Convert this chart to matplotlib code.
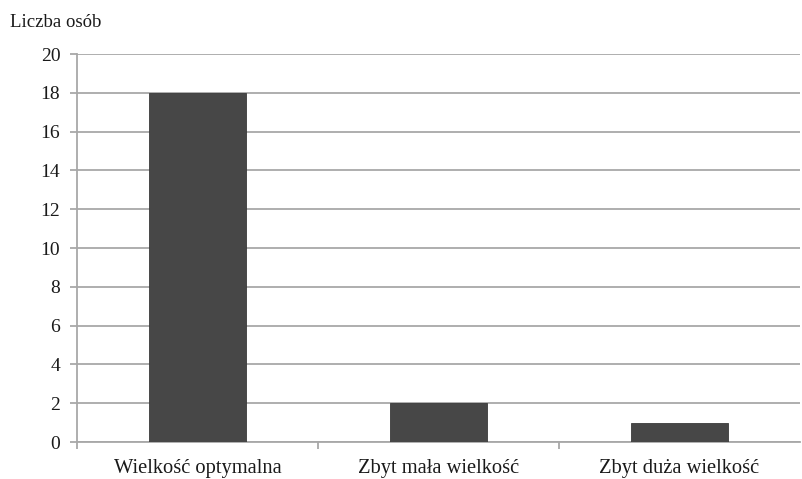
import matplotlib
matplotlib.use("Agg")
import matplotlib.pyplot as plt

categories = ["Wielkość optymalna", "Zbyt mała wielkość", "Zbyt duża wielkość"]
values = [18, 2, 1]
yticks = [0, 2, 4, 6, 8, 10, 12, 14, 16, 18, 20]

plt.rcParams['font.family'] = ['Liberation Serif', 'DejaVu Serif']

fig = plt.figure(figsize=(8.02, 4.79), dpi=100)
ax = fig.add_axes([0.096, 0.0772, 0.9015, 0.81])

x = list(range(len(categories)))
ax.bar(x, values, width=0.4, color='#474747', edgecolor='#3a3a3a', linewidth=0.6, zorder=3)

ax.set_xlim(-0.5, 2.5)
ax.set_ylim(0, 20)
ax.set_yticks(yticks)
ax.set_yticklabels([str(v) for v in yticks], fontsize=14, color='#1a1a1a')
ax.yaxis.grid(True, color='#a8a8a8', linewidth=1.3, zorder=0)
ax.tick_params(axis='y', length=5, width=1.3, color='#a8a8a8', pad=7)

ax.set_xticks(x)
ax.set_xticklabels(categories, fontsize=14.8, color='#1a1a1a')
ax.tick_params(axis='x', length=0, pad=12)
ax.set_xticks([-0.5, 0.5, 1.5], minor=True)
ax.tick_params(axis='x', which='minor', length=5, width=1.3, color='#a8a8a8')

for s in ['top', 'right']:
    ax.spines[s].set_visible(False)
for s in ['left', 'bottom']:
    ax.spines[s].set_color('#a8a8a8')
    ax.spines[s].set_linewidth(1.3)

fig.text(0.012, 0.954, "Liczba osób", fontsize=13.5, ha='left', va='center', color='#1a1a1a')

fig.savefig("out.png", dpi=100)
